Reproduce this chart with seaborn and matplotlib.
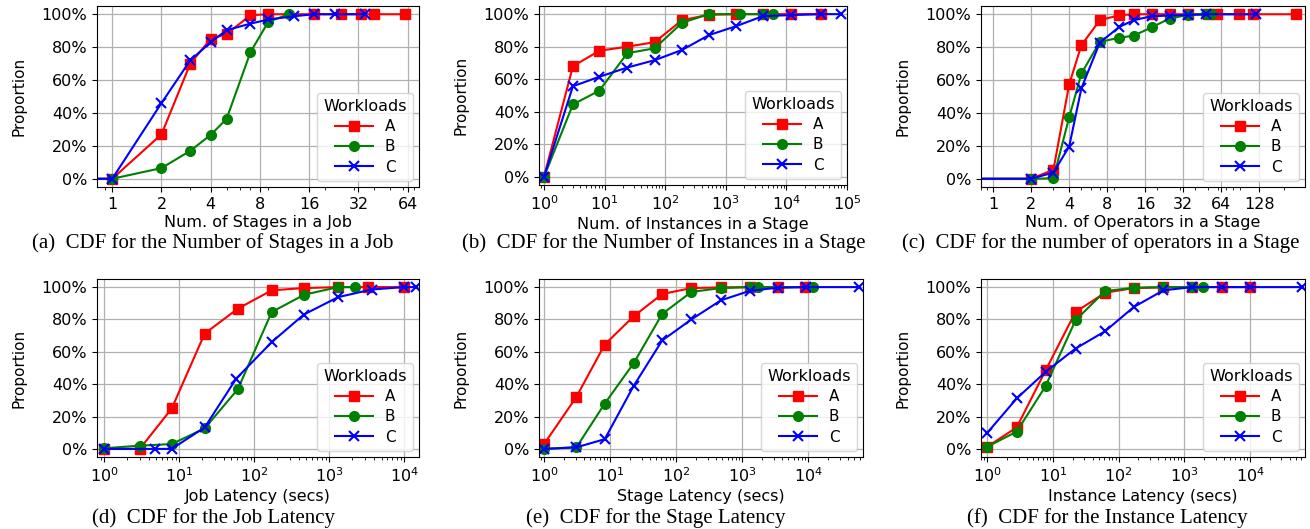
import matplotlib
matplotlib.use("Agg")
import matplotlib.pyplot as plt
import seaborn as sns
from matplotlib.ticker import PercentFormatter, NullFormatter

# ---- data (x values, CDF in percent) ----
# (a) number of stages in a job
stages_A_x = [0, 1, 2, 3, 4, 5, 7, 9, 17, 25, 33, 40, 62]
stages_A_y = [0, 0, 27, 70, 85, 88, 99.4, 100, 100, 100, 100, 100, 100]
stages_B_x = [0, 1, 2, 3, 4, 5, 7, 9, 12]
stages_B_y = [0, 0, 6.5, 17, 26.7, 36.4, 77, 95.4, 100]
stages_C_x = [0, 1, 2, 3, 4, 5, 7, 9, 13, 17, 23, 35]
stages_C_y = [0, 0, 46, 72, 83, 90.3, 94.3, 96.8, 98.8, 100, 100, 100]

# (b) number of instances in a stage
inst_A_x = [1, 3, 8.2, 23.7, 67, 190, 525, 1480, 4100, 12000, 37800]
inst_A_y = [0, 68, 77.5, 80, 82.8, 96.3, 99.6, 100, 100, 100, 100]
inst_B_x = [1, 3, 8.2, 23.7, 67, 190, 525, 1700, 4100, 6000]
inst_B_y = [0, 44.5, 53, 76, 79, 94.7, 100, 100, 100, 100]
inst_C_x = [1, 3, 8.2, 23.7, 67, 190, 525, 1480, 4100, 12000, 37000, 81000]
inst_C_y = [0, 55.7, 61.5, 67.2, 71.7, 78, 87.1, 92.6, 98.8, 99.4, 100, 100]

# (c) number of operators in a stage
ops_A_x = [0, 2, 3, 4, 5, 7, 10, 13, 18, 25, 35, 50, 59, 88, 115, 250]
ops_A_y = [0, 0, 5.5, 57.4, 81.2, 96.4, 99.4, 100, 100, 100, 100, 100, 100, 100, 100, 100]
ops_B_x = [0, 2, 3, 4, 5, 7, 10, 13, 18, 25, 35, 49, 53]
ops_B_y = [0, 0, 0.3, 37.4, 64, 83.2, 85.7, 87, 92, 97.4, 99.6, 100, 100]
ops_C_x = [0, 2, 3, 4, 5, 7, 10, 13, 18, 25, 35, 49, 122]
ops_C_y = [0, 0, 3.8, 19.6, 55, 82.8, 92.3, 96.4, 98.8, 99.2, 99.6, 100, 100]

# (d) job latency
job_A_x = [1, 3, 8, 22, 61, 172, 467, 1320, 3320, 10000]
job_A_y = [0, 0, 25, 71.3, 86.7, 98, 99.4, 100, 100, 100]
job_B_x = [1, 3, 8, 22, 61, 172, 467, 1320, 2240]
job_B_y = [0.4, 2, 3, 12.7, 37, 84.6, 95.3, 100, 100]
job_C_x = [1, 4.8, 8, 22, 58, 172, 460, 1320, 3700, 10000, 14500]
job_C_y = [0, 0, 0, 13.3, 43.5, 66, 83, 93.8, 98.5, 100, 100]

# (e) stage latency
stlat_A_x = [1, 3.1, 8.3, 22.8, 61.5, 170, 475, 1310, 3450, 8900]
stlat_A_y = [2.9, 32.2, 64.5, 82, 95.7, 99.4, 99.8, 100, 100, 100]
stlat_B_x = [1, 3.1, 8.3, 22.8, 61.5, 170, 475, 1310, 1740, 12000]
stlat_B_y = [0, 1, 28, 53, 83.4, 97, 99.4, 100, 100, 100]
stlat_C_x = [1, 3.1, 8.3, 22.8, 61.5, 170, 475, 1310, 3450, 9200, 59000]
stlat_C_y = [0, 1, 6, 39, 67, 80, 91.8, 97.7, 99.6, 100, 100]

# (f) instance latency
ilat_A_x = [1, 2.8, 7.7, 22, 62, 170, 480, 1320, 3700, 10000]
ilat_A_y = [1.4, 13.3, 48.5, 84.6, 96.5, 99.4, 99.8, 100, 100, 100]
ilat_B_x = [1, 2.8, 7.7, 22, 62, 170, 480, 1320, 1950]
ilat_B_y = [1.4, 10.7, 38.8, 79.5, 97.5, 99.6, 100, 100, 100]
ilat_C_x = [1, 2.8, 7.7, 22, 62, 170, 480, 1320, 3700, 10000, 61000]
ilat_C_y = [10, 31.2, 47.6, 62, 72.7, 87.7, 98, 100, 100, 100, 100]

workloads = ["A", "B", "C"]
colors = {"A": "red", "B": "green", "C": "blue"}
markers = {"A": "s", "B": "o", "C": "x"}

pow2_ticks = [1, 2, 4, 8, 16, 32, 64, 128]

panels = [
    dict(series=[(stages_A_x, stages_A_y), (stages_B_x, stages_B_y), (stages_C_x, stages_C_y)],
         xlabel="Num. of Stages in a Job", xlim=(0.807, 75), ticks=pow2_ticks[:7],
         caption="(a)  CDF for the Number of Stages in a Job", box=(97, 419, 6, 187), cx=213),
    dict(series=[(inst_A_x, inst_A_y), (inst_B_x, inst_B_y), (inst_C_x, inst_C_y)],
         xlabel="Num. of Instances in a Stage", xlim=(0.827, 1e5), ticks=None,
         caption="(b)  CDF for the Number of Instances in a Stage", box=(539, 847, 6, 185), cx=664),
    dict(series=[(ops_A_x, ops_A_y), (ops_B_x, ops_B_y), (ops_C_x, ops_C_y)],
         xlabel="Num. of Operators in a Stage", xlim=(0.8, 296), ticks=pow2_ticks,
         caption="(c)  CDF for the number of operators in a Stage", box=(981, 1305, 6, 187), cx=1101),
    dict(series=[(job_A_x, job_A_y), (job_B_x, job_B_y), (job_C_x, job_C_y)],
         xlabel="Job Latency (secs)", xlim=(0.807, 15800), ticks=None,
         caption="(d)  CDF for the Job Latency", box=(97, 419, 279, 457), cx=214),
    dict(series=[(stlat_A_x, stlat_A_y), (stlat_B_x, stlat_B_y), (stlat_C_x, stlat_C_y)],
         xlabel="Stage Latency (secs)", xlim=(0.84, 67400), ticks=None,
         caption="(e)  CDF for the Stage Latency", box=(539, 863, 279, 457), cx=656),
    dict(series=[(ilat_A_x, ilat_A_y), (ilat_B_x, ilat_B_y), (ilat_C_x, ilat_C_y)],
         xlabel="Instance Latency (secs)", xlim=(0.8, 68800), ticks=None,
         caption="(f)  CDF for the Instance Latency", box=(981, 1305, 279, 457), cx=1107),
]

W, H = 1310, 529
fig = plt.figure(figsize=(W / 100, H / 100), dpi=100)

for p in panels:
    l, r, t, b = p["box"]
    ax = fig.add_axes([l / W, 1 - b / H, (r - l) / W, (b - t) / H])
    for name, (xs, ys) in zip(workloads, p["series"]):
        sns.lineplot(x=xs, y=ys, ax=ax, color=colors[name], marker=markers[name],
                     markersize=7, linewidth=1.5, markeredgecolor=colors[name],
                     markeredgewidth=1.5 if name == "C" else 1, label=name)
    ax.set_xscale("log")
    ax.set_xlim(*p["xlim"])
    ax.set_ylim(-5, 105)
    if p["ticks"] is not None:
        ax.set_xticks(p["ticks"], labels=[str(v) for v in p["ticks"]])
    ax.xaxis.set_minor_formatter(NullFormatter())
    ax.set_yticks([0, 20, 40, 60, 80, 100])
    ax.yaxis.set_major_formatter(PercentFormatter(100, decimals=0))
    ax.tick_params(labelsize=11.5)
    ax.grid(True, which="major", color="#b0b0b0", linewidth=0.9)
    ax.set_xlabel(p["xlabel"], fontsize=11.5, labelpad=2.5)
    ax.set_ylabel("Proportion", fontsize=11, labelpad=11)
    ax.legend(title="Workloads", loc="lower right", fontsize=11, title_fontsize=11.5,
              handlelength=2.5, labelspacing=0.35, borderaxespad=0.4)
    fig.text(p["cx"] / W, 1 - (248 if t < 100 else 522.5) / H, p["caption"],
             ha="center", va="baseline", fontsize=15, family="Liberation Serif")

fig.savefig("out.png", dpi=100)
